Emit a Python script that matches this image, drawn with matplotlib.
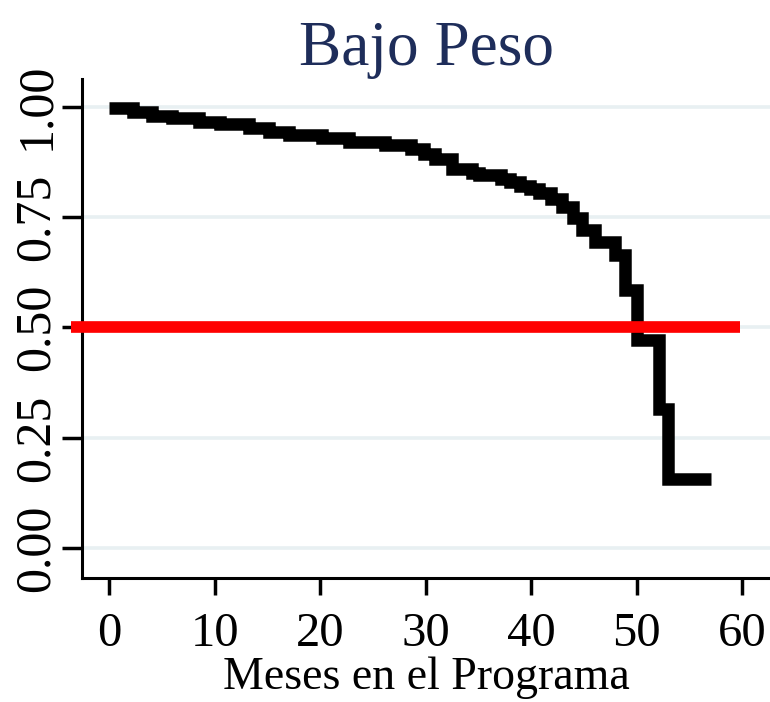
import numpy as np
import matplotlib.pyplot as plt

plt.rcParams['font.family'] = ['Liberation Serif', 'DejaVu Serif']

# Kaplan-Meier estimate (months, survival after the step)
meses = [0, 2.2, 4.0, 5.9, 8.5, 10.5, 13.2, 15.1, 17.0, 20.2, 22.7, 26.1,
         28.6, 29.8, 30.9, 32.5, 34.4, 35.0, 37.1, 38.0, 38.9, 39.9, 40.7,
         41.9, 42.9, 44.0, 44.8, 46.0, 47.9, 48.9, 50.0, 52.1, 53.0, 57.0]
superv = [0.997, 0.989, 0.980, 0.974, 0.966, 0.960, 0.951, 0.943, 0.935,
          0.928, 0.920, 0.913, 0.904, 0.893, 0.882, 0.860, 0.850, 0.845,
          0.836, 0.829, 0.821, 0.814, 0.804, 0.791, 0.772, 0.748, 0.720,
          0.693, 0.664, 0.586, 0.471, 0.315, 0.156, 0.156]

# reference line at median
ref_x = [-3.6, 59.8]
ref_y = [0.5, 0.5]

xticks = [0, 10, 20, 30, 40, 50, 60]
yticks = [0.0, 0.25, 0.5, 0.75, 1.0]
ylabels = ['0.00', '0.25', '0.50', '0.75', '1.00']

fig = plt.figure(figsize=(7.7, 7.02), dpi=100)
ax = fig.add_axes([82.3 / 770, 1 - 578 / 702, (770 - 82.3) / 770, (578 - 79) / 702])

for y in yticks:
    ax.axhline(y, color='#e8f0f2', lw=2.6, zorder=1)

ax.step(meses, superv, where='post', color='black', lw=9,
        solid_capstyle='butt', solid_joinstyle='miter', zorder=3)
ax.plot(ref_x, ref_y, color='#ff0000', lw=8.4, solid_capstyle='butt',
        clip_on=False, zorder=4)

ax.set_xlim(-2.56, 62.63)
ax.set_ylim(-0.0673, 1.0627)

ax.spines['top'].set_visible(False)
ax.spines['right'].set_visible(False)
for s in ['left', 'bottom']:
    ax.spines[s].set_linewidth(2.2)

ax.set_xticks(xticks)
ax.set_yticks(yticks)
ax.set_yticklabels(ylabels)
ax.tick_params(axis='x', length=12.5, width=2.5, pad=12, labelsize=35)
ax.tick_params(axis='y', length=14.5, width=2.5, pad=1.5, labelsize=36)
plt.setp(ax.get_yticklabels(), rotation=90, va='center')

ax.set_xlabel('Meses en el Programa', fontsize=33, labelpad=0)
ax.set_title('Bajo Peso', fontsize=45.5, color='#1e2d5a', pad=8)

plt.savefig('out.png', dpi=100)
